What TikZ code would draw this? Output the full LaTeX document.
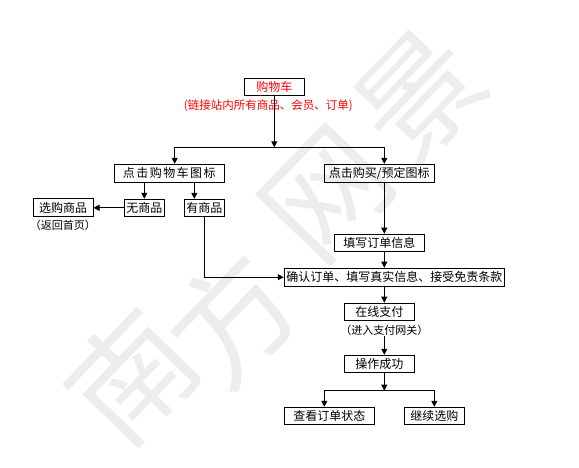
\documentclass[tikz,border=0pt]{standalone}
\usepackage{fontspec}
\setmainfont{Noto Sans CJK SC}
\usetikzlibrary{arrows.meta,positioning}

\begin{document}
\begin{tikzpicture}[
    x=1pt, y=-1pt,
    >={Triangle[length=6pt,width=6pt]},
    line width=1pt,
    box/.style={draw, line width=1pt, inner sep=0pt, minimum height=17pt, font=\fontsize{12}{12}\selectfont},
    note/.style={inner sep=0pt, font=\fontsize{11}{11}\selectfont},
    wmark/.style={font=\fontsize{122}{122}\selectfont, text=black!7, rotate=46},
]

\useasboundingbox (0,0) rectangle (579,468);

\foreach \ch/\px/\py [count=\i] in {南/132/376, 方/232/318, 网/328/195, 景/420/96}
    \node[wmark] (wm\i) at (\px,\py) {\ch};

\node[box, text=red, minimum width=60pt] (cart) at (274.3,86.7) {购物车};
\node[note, text=red, font=\fontsize{11.5}{11.5}\selectfont, below=4pt of cart, xshift=-6pt] (linkall) {(链接站内所有商品、会员、订单)};

\node[box, minimum width=110pt, minimum height=18pt, font=\fontsize{12}{12}\selectfont\addfontfeature{LetterSpace=12}] (clickcart) at (169.3,173.3) {点击购物车图标};
\node[box, minimum width=110pt, minimum height=18pt] (clickbuy) at (379.3,173.3) {点击购买/预定图标};

\node[box, minimum width=40pt] (none) at (144.3,207.8) {无商品};
\node[box, minimum width=40pt] (have) at (204.3,207.8) {有商品};
\node[box, minimum width=60pt, minimum height=18pt] (pick) at (63,207.8) {选购商品};
\node[note, below=2pt of pick] (back) {（返回首页）};

\node[box, minimum width=90pt] (fill) at (379.3,242.7) {填写订单信息};
\node[box, minimum width=220pt, minimum height=18pt] (confirm) at (394.3,277.2) {确认订单、填写真实信息、接受免责条款};
\node[box, minimum width=70pt] (pay) at (379.3,311.7) {在线支付};
\node[note, below=4pt of pay, xshift=5pt] (gateway) {（进入支付网关）};
\node[box, minimum width=70pt] (success) at (379.3,363.8) {操作成功};

\node[box, minimum width=90pt] (status) at (329.3,415.8) {查看订单状态};
\node[box, minimum width=60pt] (cont) at (434.3,415.8) {继续选购};

\coordinate (split) at (274.3,147.3);
\coordinate (fork) at (384.3,390.7);

\draw[->] (cart.south) -- (split);
\draw[->] (split) -| ([xshift=5.4pt]clickcart.north);
\draw[->] (split) -| ([xshift=5pt]clickbuy.north);

\draw[->] ([xshift=-25pt]clickcart.south) -- (none.north);
\draw[->] ([xshift=25pt]clickcart.south) -- ([xshift=-10pt]have.north);
\draw[->] (none.west) -- (pick.east);
\draw[->] (have.south) |- (confirm.west);

\draw[->] ([xshift=5pt]clickbuy.south) -- ([xshift=5pt]fill.north);
\draw[->] ([xshift=5pt]fill.south) -- ([xshift=-10pt]confirm.north);
\draw[->] ([xshift=-10pt]confirm.south) -- ([xshift=5pt]pay.north);
\draw[->] (gateway.south) -- ([xshift=5pt]success.north);

\draw[->] ([xshift=5pt]success.south) -- (fork);
\draw[->] (fork) -| ([xshift=-5pt]status.north);
\draw[->] (fork) -| (cont.north);

\end{tikzpicture}
\end{document}
